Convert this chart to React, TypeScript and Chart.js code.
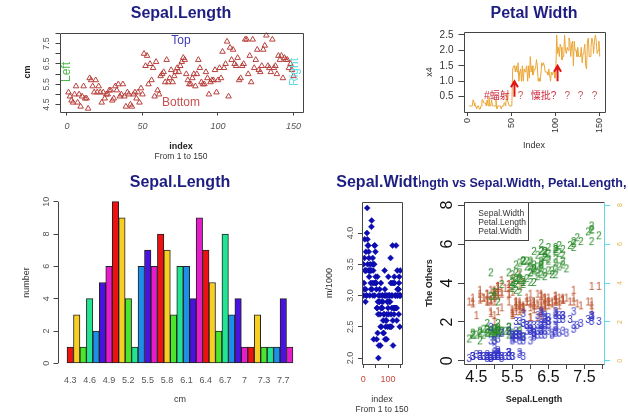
import React, { useEffect, useRef } from 'react';
import { Chart, registerables } from 'chart.js';
Chart.register(...registerables);

const FONT = '"Liberation Sans", Arial, "Noto Sans CJK SC", sans-serif';
Chart.defaults.font.family = FONT;

// ---- iris data ----
const sepalLength = [
  5.1,4.9,4.7,4.6,5.0,5.4,4.6,5.0,4.4,4.9, 5.4,4.8,4.8,4.3,5.8,5.7,5.4,5.1,5.7,5.1,
  5.4,5.1,4.6,5.1,4.8,5.0,5.0,5.2,5.2,4.7, 4.8,5.4,5.2,5.5,4.9,5.0,5.5,4.9,4.4,5.1,
  5.0,4.5,4.4,5.0,5.1,4.8,5.1,4.6,5.3,5.0, 7.0,6.4,6.9,5.5,6.5,5.7,6.3,4.9,6.6,5.2,
  5.0,5.9,6.0,6.1,5.6,6.7,5.6,5.8,6.2,5.6, 5.9,6.1,6.3,6.1,6.4,6.6,6.8,6.7,6.0,5.7,
  5.5,5.5,5.8,6.0,5.4,6.0,6.7,6.3,5.6,5.5, 5.5,6.1,5.8,5.0,5.6,5.7,5.7,6.2,5.1,5.7,
  6.3,5.8,7.1,6.3,6.5,7.6,4.9,7.3,6.7,7.2, 6.5,6.4,6.8,5.7,5.8,6.4,6.5,7.7,7.7,6.0,
  6.9,5.6,7.7,6.3,6.7,7.2,6.2,6.1,6.4,7.2, 7.4,7.9,6.4,6.3,6.1,7.7,6.3,6.4,6.0,6.9,
  6.7,6.9,5.8,6.8,6.7,6.7,6.3,6.5,6.2,5.9,
];
const sepalWidth = [
  3.5,3.0,3.2,3.1,3.6,3.9,3.4,3.4,2.9,3.1, 3.7,3.4,3.0,3.0,4.0,4.4,3.9,3.5,3.8,3.8,
  3.4,3.7,3.6,3.3,3.4,3.0,3.4,3.5,3.4,3.2, 3.1,3.4,4.1,4.2,3.1,3.2,3.5,3.6,3.0,3.4,
  3.5,2.3,3.2,3.5,3.8,3.0,3.8,3.2,3.7,3.3, 3.2,3.2,3.1,2.3,2.8,2.8,3.3,2.4,2.9,2.7,
  2.0,3.0,2.2,2.9,2.9,3.1,3.0,2.7,2.2,2.5, 3.2,2.8,2.5,2.8,2.9,3.0,2.8,3.0,2.9,2.6,
  2.4,2.4,2.7,2.7,3.0,3.4,3.1,2.3,3.0,2.5, 2.6,3.0,2.6,2.3,2.7,3.0,2.9,2.9,2.5,2.8,
  3.3,2.7,3.0,2.9,3.0,3.0,2.5,2.9,2.5,3.6, 3.2,2.7,3.0,2.5,2.8,3.2,3.0,3.8,2.6,2.2,
  3.2,2.8,2.8,2.7,3.3,3.2,2.8,3.0,2.8,3.0, 2.8,3.8,2.8,2.8,2.6,3.0,3.4,3.1,3.0,3.1,
  3.1,3.1,2.7,3.2,3.3,3.0,2.5,3.0,3.4,3.0,
];
const petalLength = [
  1.4,1.4,1.3,1.5,1.4,1.7,1.4,1.5,1.4,1.5, 1.5,1.6,1.4,1.1,1.2,1.5,1.3,1.4,1.7,1.5,
  1.7,1.5,1.0,1.7,1.9,1.6,1.6,1.5,1.4,1.6, 1.6,1.5,1.5,1.4,1.5,1.2,1.3,1.4,1.3,1.5,
  1.3,1.3,1.3,1.6,1.9,1.4,1.6,1.4,1.5,1.4, 4.7,4.5,4.9,4.0,4.6,4.5,4.7,3.3,4.6,3.9,
  3.5,4.2,4.0,4.7,3.6,4.4,4.5,4.1,4.5,3.9, 4.8,4.0,4.9,4.7,4.3,4.4,4.8,5.0,4.5,3.5,
  3.8,3.7,3.9,5.1,4.5,4.5,4.7,4.4,4.1,4.0, 4.4,4.6,4.0,3.3,4.2,4.2,4.2,4.3,3.0,4.1,
  6.0,5.1,5.9,5.6,5.8,6.6,4.5,6.3,5.8,6.1, 5.1,5.3,5.5,5.0,5.1,5.3,5.5,6.7,6.9,5.0,
  5.7,4.9,6.7,4.9,5.7,6.0,4.8,4.9,5.6,5.8, 6.1,6.4,5.6,5.1,5.6,6.1,5.6,5.5,4.8,5.4,
  5.6,5.1,5.1,5.9,5.7,5.2,5.0,5.2,5.4,5.1,
];
const petalWidth = [
  0.2,0.2,0.2,0.2,0.2,0.4,0.3,0.2,0.2,0.1, 0.2,0.2,0.1,0.1,0.2,0.4,0.4,0.3,0.3,0.3,
  0.2,0.4,0.2,0.5,0.2,0.2,0.4,0.2,0.2,0.2, 0.2,0.4,0.1,0.2,0.2,0.2,0.2,0.1,0.2,0.2,
  0.3,0.3,0.2,0.6,0.4,0.3,0.2,0.2,0.2,0.2, 1.4,1.5,1.5,1.3,1.5,1.3,1.6,1.0,1.3,1.4,
  1.0,1.5,1.0,1.4,1.3,1.4,1.5,1.0,1.5,1.1, 1.8,1.3,1.5,1.2,1.3,1.4,1.4,1.7,1.5,1.0,
  1.1,1.0,1.2,1.6,1.5,1.6,1.5,1.3,1.3,1.3, 1.2,1.4,1.2,1.0,1.3,1.2,1.3,1.3,1.1,1.3,
  2.5,1.9,2.1,1.8,2.2,2.1,1.7,1.8,1.8,2.5, 2.0,1.9,2.1,2.0,2.4,2.3,1.8,2.2,2.3,1.5,
  2.3,2.0,2.0,1.8,2.1,1.8,1.8,1.8,2.1,1.6, 1.9,2.0,2.2,1.5,1.4,2.3,2.4,1.8,1.8,2.1,
  2.4,2.3,1.9,2.3,2.5,2.3,1.9,2.0,2.3,1.8,
];

// ---- histogram (table of Sepal.Length) ----
const slCategories = ['4.3','4.4','4.5','4.6','4.7','4.8','4.9','5','5.1','5.2','5.3','5.4','5.5','5.6','5.7','5.8','5.9','6','6.1','6.2','6.3','6.4','6.5','6.6','6.7','6.8','6.9','7','7.1','7.2','7.3','7.4','7.6','7.7','7.9'];
const slCounts = [1,3,1,4,2,5,6,10,9,4,1,6,7,6,8,7,3,6,6,4,9,7,5,2,8,3,4,1,1,3,1,1,1,4,1];
const barColors = ['#EE1111','#F6CF22','#4BE52B','#22E594','#1C8FE8','#4A12E0','#E81BCB'];

// ---- ticks ----
const p1XTicks = [0, 50, 100, 150];
const p1YTicks = [4.5, 5, 5.5, 6, 6.5, 7, 7.5, 8];
const p1YLabels = ['4.5', '', '5.5', '', '6.5', '', '7.5', ''];
const p2XTicks = [0, 50, 100, 150];
const p2YTicks = [0.5, 1, 1.5, 2, 2.5];
const p3YTicks = [0, 2, 4, 6, 8, 10];
const p3LabelEvery = 3;
const p4XTicks = [0, 50, 100, 150];
const p4XLabels = ['0', '', '100', ''];
const p4YTicks = [2, 2.5, 3, 3.5, 4];
const p5XTicks = [4.5, 5, 5.5, 6, 6.5, 7, 7.5, 8];
const p5XLabels = ['4.5', '', '5.5', '', '6.5', '', '7.5', ''];
const p5YTicks = [0, 2, 4, 6, 8];

// ---- annotations on Petal Width ----
const p2Notes = [
  { text: '#蝠射', x: 33, y: 0.5 },
  { text: '?', x: 60, y: 0.5 },
  { text: '憟批?', x: 86, y: 0.5 },
  { text: '?', x: 113, y: 0.5 },
  { text: '?', x: 128, y: 0.5 },
  { text: '?', x: 144, y: 0.5 },
];
const p2Arrows = [
  { x: 53, y0: 0.5, y1: 1.0 },
  { x: 102, y0: 1.0, y1: 1.5 },
];

const p5Series = [
  { label: 'Sepal.Width', values: sepalWidth, digit: '1', color: '#BC5632' },
  { label: 'Petal.Length', values: petalLength, digit: '2', color: '#2A8A2A' },
  { label: 'Petal.Width', values: petalWidth, digit: '3', color: '#3434C8' },
];

const NAVY = '#1E1E82';
const GREY = '#555';

type Area = { l: number; t: number; r: number; b: number };
type TextItem = { t: string; x: number; y: number; s: number; c?: string; b?: boolean; i?: boolean; r?: number; a?: CanvasTextAlign };

// Axis boxes are given fixed sizes so that the plot area lands exactly on `a`.
function base(w: number, h: number, a: Area, scales: any) {
  const pad = { left: a.l, top: a.t, right: w - a.r, bottom: h - a.b };
  for (const key of Object.keys(scales)) {
    const s = scales[key];
    if (s.position === 'left') { const f = a.l; pad.left = 0; s.afterFit = (sc: any) => { sc.width = f; }; }
    if (s.position === 'right') { const f = w - a.r; pad.right = 0; s.afterFit = (sc: any) => { sc.width = f; }; }
    if (s.position === 'bottom') { const f = h - a.b; pad.bottom = 0; s.afterFit = (sc: any) => { sc.height = f; }; }
  }
  return {
    responsive: false,
    animation: false,
    events: [],
    layout: { autoPadding: false, padding: pad },
    plugins: { legend: { display: false }, tooltip: { enabled: false } },
    scales,
  };
}

function axis(o: {
  pos: string; min: number; max: number; ticks: number[]; labels?: string[]; fmt?: (v: number) => string;
  size: number; color: string; tl: number; pad: number; rot?: boolean; italic?: boolean; gridColor?: string; lh?: number;
}) {
  const horizontal = o.pos === 'bottom' || o.pos === 'top';
  return {
    type: 'linear',
    position: o.pos,
    min: o.min,
    max: o.max,
    offset: false,
    afterBuildTicks: (s: any) => { s.ticks = o.ticks.map((v) => ({ value: v })); },
    border: { display: false },
    grid: { display: o.tl > 0, offset: false, drawOnChartArea: false, drawTicks: o.tl > 0, tickLength: o.tl, color: o.gridColor || '#444', lineWidth: 1 },
    ticks: {
      autoSkip: false,
      padding: o.pad,
      color: o.color,
      font: { size: o.size, style: o.italic ? 'italic' : 'normal', lineHeight: o.lh || 1.2 },
      minRotation: o.rot ? 90 : 0,
      maxRotation: o.rot ? 90 : 0,
      crossAlign: !horizontal && o.rot ? 'center' : 'near',
      callback: (v: number, i: number) => (o.labels ? o.labels[i] : o.fmt ? o.fmt(v) : String(v)),
    },
  };
}

function textPlugin(items: TextItem[]) {
  return {
    id: 'texts',
    afterDraw(chart: any) {
      const ctx = chart.ctx;
      for (const it of items) {
        ctx.save();
        ctx.translate(it.x, it.y);
        if (it.r) ctx.rotate((it.r * Math.PI) / 180);
        ctx.font = `${it.i ? 'italic ' : ''}${it.b ? 'bold ' : ''}${it.s}px ${FONT}`;
        ctx.fillStyle = it.c || '#222';
        ctx.textAlign = it.a || 'center';
        ctx.textBaseline = 'middle';
        ctx.fillText(it.t, 0, 0);
        ctx.restore();
      }
    },
  };
}

function boxPlugin(color = '#444', rightColor?: string) {
  return {
    id: 'box',
    afterDatasetsDraw(chart: any) {
      const { left, top, right, bottom } = chart.chartArea;
      const ctx = chart.ctx;
      const l = Math.round(left) + 0.5, t = Math.round(top) + 0.5, r = Math.round(right) + 0.5, b = Math.round(bottom) + 0.5;
      ctx.save();
      ctx.lineWidth = 1;
      ctx.strokeStyle = color;
      ctx.beginPath();
      ctx.moveTo(r, t); ctx.lineTo(l, t); ctx.lineTo(l, b); ctx.lineTo(r, b);
      if (!rightColor) ctx.lineTo(r, t);
      ctx.stroke();
      if (rightColor) {
        ctx.strokeStyle = rightColor;
        ctx.beginPath(); ctx.moveTo(r, t); ctx.lineTo(r, b); ctx.stroke();
      }
      ctx.restore();
    },
  };
}

// ---------- Panel builders ----------
function buildP1() {
  const W = 320, H = 170;
  const a = { l: 59.5, t: 32.5, r: 302.5, b: 111.5 };
  return {
    type: 'scatter',
    data: {
      datasets: [{
        data: sepalLength.map((v, i) => ({ x: i + 1, y: v })),
        pointStyle: 'triangle', radius: 3.2, borderColor: '#B8403C', backgroundColor: 'rgba(0,0,0,0)', borderWidth: 1,
      }],
    },
    options: base(W, H, a, {
      x: axis({ pos: 'bottom', min: -4.96, max: 155.96, ticks: p1XTicks, size: 9, color: GREY, tl: 4, pad: 5.9, italic: true }),
      y: axis({ pos: 'left', min: 4.156, max: 8.044, ticks: p1YTicks, labels: p1YLabels, size: 9, color: GREY, tl: 4, pad: 2.5, rot: true }),
    }),
    plugins: [
      boxPlugin(),
      textPlugin([
        { t: 'Sepal.Length', x: 181, y: 14, s: 16, b: true, c: NAVY },
        { t: 'cm', x: 28, y: 72, s: 9, b: true, r: -90 },
        { t: 'index', x: 181, y: 146.5, s: 9, b: true },
        { t: 'From 1 to 150', x: 181, y: 156.5, s: 8.5, c: '#333' },
        { t: 'Top', x: 181, y: 40.5, s: 12, c: '#3B3BB8' },
        { t: 'Bottom', x: 181, y: 103, s: 12, c: '#C85050' },
        { t: 'Left', x: 66.5, y: 72, s: 12, c: '#4CB848', r: -90 },
        { t: 'Right', x: 294.5, y: 72, s: 12, c: '#66DDE6', r: -90 },
      ]),
    ],
  };
}

function buildP2() {
  const W = 228, H = 170;
  const a = { l: 63.5, t: 32, r: 205, b: 112 };
  const notes = {
    id: 'p2notes',
    afterDatasetsDraw(chart: any) {
      const { x, y } = chart.scales;
      const ctx = chart.ctx;
      ctx.save();
      ctx.strokeStyle = '#E01414';
      ctx.lineWidth = 2;
      for (const ar of p2Arrows) {
        const px = x.getPixelForValue(ar.x);
        const p0 = y.getPixelForValue(ar.y0);
        const p1 = y.getPixelForValue(ar.y1);
        ctx.beginPath();
        ctx.moveTo(px, p0); ctx.lineTo(px, p1);
        ctx.moveTo(px - 3.5, p1 + 6); ctx.lineTo(px, p1); ctx.lineTo(px + 3.5, p1 + 6);
        ctx.stroke();
      }
      ctx.font = `10px ${FONT}`;
      ctx.textAlign = 'center';
      ctx.textBaseline = 'middle';
      for (const n of p2Notes) {
        ctx.fillStyle = n.text === '?' ? '#C85A5A' : '#D02E40';
        ctx.fillText(n.text, x.getPixelForValue(n.x), y.getPixelForValue(n.y));
      }
      ctx.restore();
    },
  };
  return {
    type: 'line',
    data: {
      datasets: [{
        data: petalWidth.map((v, i) => ({ x: i + 1, y: v })),
        borderColor: '#EBA535', borderWidth: 1, pointRadius: 0, tension: 0, fill: false,
      }],
    },
    options: base(W, H, a, {
      x: axis({ pos: 'bottom', min: -4.96, max: 155.96, ticks: p2XTicks, size: 9, color: '#333', tl: 4, pad: 2, rot: true }),
      y: axis({ pos: 'left', min: 0.004, max: 2.596, ticks: p2YTicks, fmt: (v) => v.toFixed(1), size: 10, color: '#333', tl: 5, pad: 5 }),
    }),
    plugins: [
      boxPlugin(),
      notes,
      textPlugin([
        { t: 'Petal Width', x: 134, y: 14, s: 16, b: true, c: NAVY },
        { t: 'Index', x: 134, y: 146, s: 9, c: '#333' },
        { t: 'x4', x: 29.5, y: 72, s: 9, c: '#333', r: -90 },
      ]),
    ],
  };
}

function buildP3() {
  const W = 320, H = 247;
  const a = { l: 58, t: 25.2, r: 302, b: 199.8 };
  const tickIdx = slCategories.map((_, i) => i).filter((i) => i % p3LabelEvery === 0);
  const axisLine = {
    id: 'p3axis',
    afterDraw(chart: any) {
      const y = chart.scales.y;
      const ctx = chart.ctx;
      const x = Math.round(chart.chartArea.left) + 0.5;
      ctx.save();
      ctx.strokeStyle = '#444';
      ctx.lineWidth = 1;
      ctx.beginPath();
      ctx.moveTo(x, y.getPixelForValue(p3YTicks[0]));
      ctx.lineTo(x, y.getPixelForValue(p3YTicks[p3YTicks.length - 1]));
      ctx.stroke();
      ctx.restore();
    },
  };
  return {
    type: 'bar',
    data: {
      datasets: [{
        data: slCounts.map((c, i) => ({ x: i + 0.5, y: c })),
        backgroundColor: slCounts.map((_, i) => barColors[i % barColors.length]),
        borderColor: '#222', borderWidth: 1, borderSkipped: false,
        barPercentage: 1, categoryPercentage: 1,
      }],
    },
    options: base(W, H, a, {
      x: axis({ pos: 'bottom', min: -1.4, max: 36.4, ticks: tickIdx.map((i) => i + 0.5), labels: tickIdx.map((i) => slCategories[i]), size: 9, color: GREY, tl: 0, pad: 5.8 }),
      y: axis({ pos: 'left', min: -0.4, max: 10.4, ticks: p3YTicks, size: 9, color: GREY, tl: 4.5, pad: 1.8, rot: true }),
    }),
    plugins: [
      axisLine,
      textPlugin([
        { t: 'Sepal.Length', x: 180, y: 13, s: 16, b: true, c: NAVY },
        { t: 'number', x: 27, y: 112.5, s: 9, c: '#333', r: -90 },
        { t: 'cm', x: 180, y: 230, s: 9, c: '#333' },
      ]),
    ],
  };
}

function buildP4() {
  const W = 100, H = 247;
  const a = { l: 42, t: 32, r: 82, b: 194 };
  return {
    type: 'scatter',
    data: {
      datasets: [{
        data: sepalWidth.map((v, i) => ({ x: i + 1, y: v })),
        pointStyle: 'rectRot', radius: 3, backgroundColor: '#0C0CB0', borderColor: '#0C0CB0', borderWidth: 0.5,
      }],
    },
    options: base(W, H, a, {
      x: axis({ pos: 'bottom', min: -4.96, max: 155.96, ticks: p4XTicks, labels: p4XLabels, size: 9, color: '#C5483F', tl: 4, pad: 6.6 }),
      y: axis({ pos: 'left', min: 1.904, max: 4.496, ticks: p4YTicks, fmt: (v) => v.toFixed(1), size: 9, color: GREY, tl: 4, pad: 1.7, rot: true }),
    }),
    plugins: [
      boxPlugin(),
      textPlugin([
        { t: 'Sepal.Width', x: 62, y: 13, s: 16, b: true, c: NAVY },
        { t: 'm/1000', x: 10, y: 113, s: 9, c: '#333', r: -90 },
        { t: 'index', x: 62, y: 229.5, s: 9, c: '#333' },
        { t: 'From 1 to 150', x: 62, y: 240, s: 8.5, c: '#333' },
      ]),
    ],
  };
}

function digitImage(d: string, color: string) {
  const c = document.createElement('canvas');
  c.width = 8;
  c.height = 12;
  const g = c.getContext('2d')!;
  g.font = `10px ${FONT}`;
  g.fillStyle = color;
  g.textAlign = 'center';
  g.textBaseline = 'middle';
  g.fillText(d, 4, 6.5);
  return c;
}

function buildP5() {
  const W = 208, H = 247;
  const a = { l: 44, t: 32, r: 184, b: 194 };
  const legend = {
    id: 'p5legend',
    afterDraw(chart: any) {
      const ctx = chart.ctx;
      const { left, top } = chart.chartArea;
      const l = Math.round(left) + 0.5, t = Math.round(top) + 0.5;
      ctx.save();
      ctx.strokeStyle = '#444';
      ctx.lineWidth = 1;
      ctx.strokeRect(l, t, 64, 38);
      ctx.font = `8.5px ${FONT}`;
      ctx.fillStyle = '#333';
      ctx.textAlign = 'left';
      ctx.textBaseline = 'middle';
      chart.data.datasets.forEach((ds: any, i: number) => {
        ctx.fillText(ds.label, left + 14.3, top + 11.3 + i * 9.2);
      });
      ctx.restore();
    },
  };
  return {
    type: 'scatter',
    data: {
      datasets: p5Series.map((s, k) => ({
        label: s.label,
        data: sepalLength.map((x, i) => ({ x, y: s.values[i] })),
        pointStyle: digitImage(s.digit, s.color),
        radius: 3,
        order: p5Series.length - k,
      })),
    },
    options: base(W, H, a, {
      x: axis({ pos: 'bottom', min: 4.156, max: 8.044, ticks: p5XTicks, labels: p5XLabels, size: 16, color: '#111', tl: 5, pad: 0.5, lh: 1 }),
      y: axis({ pos: 'left', min: -0.16, max: 8.16, ticks: p5YTicks, size: 16, color: '#111', tl: 6, pad: 5.5, rot: true }),
      y2: axis({ pos: 'right', min: -0.16, max: 8.16, ticks: p5YTicks, size: 7, color: '#E2B44A', tl: 6, pad: 8, rot: true, gridColor: '#5FD8E8' }),
    }),
    plugins: [
      boxPlugin('#444', '#5FD8E8'),
      legend,
      textPlugin([
        { t: 'Sepal.Length vs Sepal.Width, Petal.Length, Petal.Width', x: 114, y: 14, s: 12.5, b: true, c: NAVY },
        { t: 'The Others', x: 10, y: 113, s: 9, b: true, r: -90 },
        { t: 'Sepal.Length', x: 114, y: 230, s: 9, b: true },
      ]),
    ],
  };
}

function Panel(props: { left: number; top: number; width: number; height: number; build: () => any }) {
  const ref = useRef<HTMLCanvasElement>(null);
  useEffect(() => {
    const chart = new Chart(ref.current as HTMLCanvasElement, props.build());
    return () => chart.destroy();
  }, []);
  const { left, top, width, height } = props;
  return (
    <canvas
      ref={ref}
      width={width}
      height={height}
      style={{ position: 'absolute', left, top, width, height }}
    />
  );
}

export default function App() {
  return (
    <div style={{ position: 'absolute', left: 0, top: 0, width: 628, height: 417, background: '#fff', overflow: 'hidden' }}>
      <Panel left={0} top={0} width={320} height={170} build={buildP1} />
      <Panel left={400} top={0} width={228} height={170} build={buildP2} />
      <Panel left={0} top={170} width={320} height={247} build={buildP3} />
      <Panel left={320} top={170} width={100} height={247} build={buildP4} />
      <Panel left={420} top={170} width={208} height={247} build={buildP5} />
    </div>
  );
}
